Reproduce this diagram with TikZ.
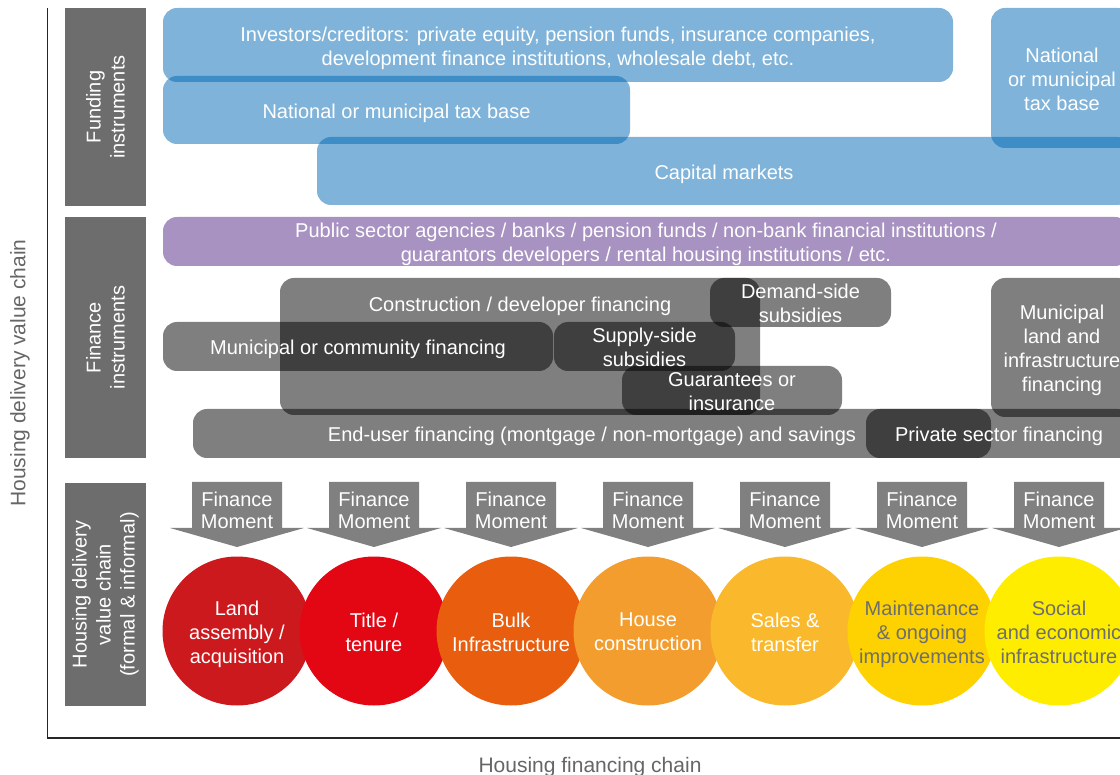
\documentclass[tikz,border=0pt]{standalone}
\usepackage{fontspec}
\setmainfont{Liberation Sans}
\usetikzlibrary{fit}

\definecolor{fundblue}{HTML}{0067B3}
\definecolor{purplebar}{HTML}{A792C1}
\definecolor{sidegray}{HTML}{6D6D6D}
\definecolor{arrowgray}{HTML}{808080}
\definecolor{axistext}{HTML}{666666}
\definecolor{darktext}{HTML}{6E6E6E}
\definecolor{stageA}{HTML}{CC191E}
\definecolor{stageB}{HTML}{E30613}
\definecolor{stageC}{HTML}{E85D0E}
\definecolor{stageD}{HTML}{F39D2E}
\definecolor{stageE}{HTML}{FAB92D}
\definecolor{stageF}{HTML}{FDD200}
\definecolor{stageG}{HTML}{FFED00}

\tikzset{
  every node/.style={font=\fontsize{20}{24}\selectfont},
  band/.style={inner sep=0pt, rounded corners=14pt, draw=none},
  fundbox/.style={band, fill=fundblue, fill opacity=0.5},
  purplebox/.style={band, fill=purplebar},
  finbox/.style={band, fill=black, fill opacity=0.5},
  boxtext/.style={text=white, align=center, inner sep=0pt, text depth=0pt, yshift=-1pt},
  sidebox/.style={inner sep=0pt, draw=none, fill=sidegray},
  sidetext/.style={text=white, align=center, rotate=90, inner sep=0pt},
  axislabel/.style={text=axistext, inner sep=0pt, font=\fontsize{21}{25}\selectfont},
  momentarrow/.style={fill=arrowgray, draw=none},
  momenttext/.style={text=white, align=center, inner sep=0pt, font=\fontsize{20}{22}\selectfont},
  stage/.style={circle, minimum size=149pt, inner sep=0pt, draw=none},
  stagetext/.style={text=white, align=center, inner sep=0pt, text depth=0pt, yshift=-1pt},
}

\begin{document}
\begin{tikzpicture}[x=1pt, y=-1pt]
\useasboundingbox (0,0) rectangle (1120,775);
\begin{scope}
\clip (0,0) rectangle (1120,775);

% axes
\coordinate (axtop) at (47.5,8);
\coordinate (axorigin) at (47.5,738);
\coordinate (axright) at (1125,738);
\draw[line width=1.4pt, black!85] (axtop) -- (axorigin) -- (axright);
\node[axislabel, rotate=90] (yaxis) at (20,373) {Housing delivery value chain};
\node[axislabel] (xaxis) at (590,767) {Housing financing chain};

% row labels
\node[sidebox, fit={(65,8) (146,206)}] (rowfund) {};
\node[sidebox, fit={(65,217) (146,458)}] (rowfin) {};
\node[sidebox, fit={(65,483) (146,706)}] (rowchain) {};
\node[sidetext] at (rowfund.center) {Funding\\instruments};
\node[sidetext] at (rowfin.center) {Finance\\instruments};
\node[sidetext] at (rowchain.center) {Housing delivery\\value chain\\(formal \& informal)};

% funding instruments
\node[fundbox, fit={(163,8) (953,82)}] (investors) {};
\node[fundbox, fit={(163,76) (630,144)}] (taxbase) {};
\node[fundbox, fit={(317,137) (1131,205)}] (capital) {};
\node[fundbox, fit={(991,8) (1133,148)}] (taxbaseR) {};
\node[boxtext] at (investors.center) {Investors/creditors: private equity, pension funds, insurance companies,\\development finance institutions, wholesale debt, etc.};
\node[boxtext] at (taxbase.center) {National or municipal tax base};
\node[boxtext] at (capital.center) {Capital markets};
\node[boxtext] at (taxbaseR.center) {National\\or municipal\\tax base};

% finance instruments
\node[purplebox, fit={(163,217) (1129,266)}] (agencies) {};
\node[boxtext] at (agencies.center) {Public sector agencies / banks / pension funds / non-bank financial institutions /\\guarantors developers / rental housing institutions / etc.};

\node[finbox, fit={(280,278) (760,415)}] (construct) {};
\node[finbox, fit={(163,322) (553,371)}] (municipal) {};
\node[finbox, fit={(554,322) (735,371)}] (supply) {};
\node[finbox, fit={(710,278) (891,327)}] (demand) {};
\node[finbox, fit={(622,366) (842,415)}] (guarantee) {};
\node[finbox, fit={(193,409) (991,458)}] (enduser) {};
\node[finbox, fit={(866,409) (1132,458)}] (private) {};
\node[finbox, fit={(991,278) (1133,417)}] (landinfra) {};

\node[boxtext] at (520,303) {Construction / developer financing};
\node[boxtext] at (municipal.center) {Municipal or community financing};
\node[boxtext] at (supply.center) {Supply-side\\subsidies};
\node[boxtext] at (demand.center) {Demand-side\\subsidies};
\node[boxtext] at (guarantee.center) {Guarantees or\\insurance};
\node[boxtext] at (enduser.center) {End-user financing (montgage / non-mortgage) and savings};
\node[boxtext] at (private.center) {Private sector financing};
\node[boxtext] at (landinfra.center) {Municipal\\land and\\infrastructure\\financing};

% finance moments
\foreach \k in {0,...,6} {
  \pgfmathsetmacro{\cx}{237+137*\k}
  \fill[momentarrow] (\cx-45,482) -- (\cx+45,482) -- (\cx+45,528) -- (\cx+67,528)
        -- (\cx,547) -- (\cx-67,528) -- (\cx-45,528) -- cycle;
  \node[momenttext] (moment\k) at (\cx,510) {Finance\\Moment};
}

% delivery stages
\node[stage, fill=stageA] (land)   at (237,631) {};
\node[stage, fill=stageB] (title)  at (374,631) {};
\node[stage, fill=stageC] (bulk)   at (511,631) {};
\node[stage, fill=stageD] (house)  at (648,631) {};
\node[stage, fill=stageE] (sales)  at (785,631) {};
\node[stage, fill=stageF] (maint)  at (922,631) {};
\node[stage, fill=stageG] (social) at (1059,631) {};
\node[stagetext] at (land.center)  {Land\\assembly /\\acquisition};
\node[stagetext] at (title.center) {Title /\\tenure};
\node[stagetext] at (bulk.center)  {Bulk\\Infrastructure};
\node[stagetext] at (house.center) {House\\construction};
\node[stagetext] at (sales.center) {Sales \&\\transfer};
\node[stagetext, text=darktext] at (maint.center)  {Maintenance\\\& ongoing\\improvements};
\node[stagetext, text=darktext] at (social.center) {Social\\and economic\\infrastructure};
\end{scope}
\end{tikzpicture}
\end{document}
